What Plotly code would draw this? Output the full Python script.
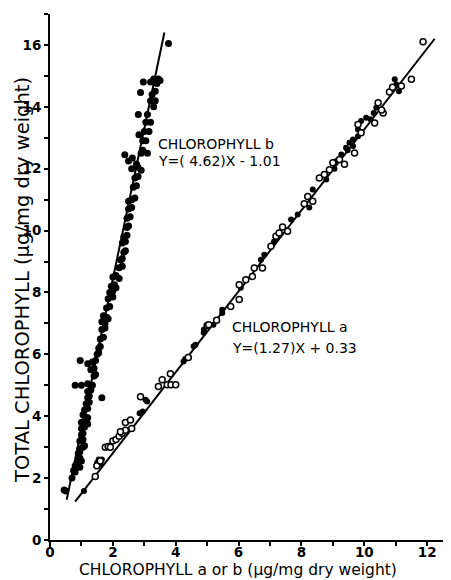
import plotly.graph_objects as go

# Chlorophyll b (filled circles)
b_x = [3.77, 3.30, 3.45, 3.50, 2.97, 3.20, 3.40, 2.88, 3.35, 3.25, 3.20, 3.35, 3.30, 2.81, 3.10,
       3.05, 3.20, 2.83, 3.00, 3.15, 3.05, 2.95, 2.90, 3.10, 2.95, 2.38, 2.50, 2.62, 2.75, 2.60,
       2.80, 2.90, 2.70, 2.80, 2.65, 2.75, 2.60, 2.70, 2.50, 2.50, 2.60, 2.45, 2.55, 2.45, 2.50,
       2.35, 2.45, 2.30, 2.40, 2.35, 2.40, 2.30, 2.25, 2.20, 2.30, 2.00, 2.10, 2.20, 1.95, 2.05,
       2.10, 1.90, 2.00, 1.85, 2.00, 1.80, 1.90, 1.80, 1.70, 1.85, 1.75, 1.65, 1.65, 1.75, 1.60,
       1.70, 1.55, 1.60, 1.50, 1.55, 0.96, 1.45, 1.20, 1.35, 1.30, 1.40, 1.40, 1.45, 0.80, 1.00,
       1.20, 1.30, 1.35, 1.20, 1.30, 1.65, 1.20, 1.25, 1.15, 1.25, 1.10, 1.20, 1.10, 1.05, 1.20,
       1.00, 1.10, 1.20, 1.00, 1.10, 1.00, 1.05, 0.95, 1.05, 1.05, 1.10, 0.95, 0.90, 0.95, 0.90,
       0.95, 1.00, 0.80, 0.85, 0.95, 0.80, 0.75, 0.70, 0.45, 0.50]
b_y = [16.05, 14.90, 14.90, 14.85, 14.80, 14.80, 14.75, 14.46, 14.50, 14.40, 14.20, 14.20, 14.00, 13.75, 13.75,
       13.50, 13.50, 13.10, 13.20, 13.20, 12.90, 12.90, 12.50, 12.50, 12.60, 12.45, 12.25, 12.35, 12.15, 12.00,
       12.05, 11.95, 11.70, 11.75, 11.40, 11.45, 11.00, 11.05, 10.95, 10.70, 10.75, 10.40, 10.45, 10.10, 10.15,
       9.80, 9.85, 9.60, 9.65, 9.30, 9.35, 9.10, 9.05, 8.80, 8.85, 8.50, 8.55, 8.45, 8.20, 8.25,
       8.15, 8.00, 8.05, 7.80, 7.85, 7.50, 7.55, 7.20, 7.25, 7.15, 7.00, 7.05, 6.80, 6.85, 6.50,
       6.55, 6.20, 6.25, 6.00, 6.05, 5.80, 5.80, 5.70, 5.75, 5.50, 5.55, 5.30, 5.35, 5.00, 5.00,
       5.05, 4.95, 5.00, 4.80, 4.85, 4.60, 4.60, 4.65, 4.40, 4.45, 4.20, 4.25, 4.00, 4.05, 3.95,
       3.80, 3.85, 3.75, 3.60, 3.65, 3.40, 3.45, 3.20, 3.25, 3.00, 3.05, 2.95, 2.80, 2.85, 2.60,
       2.65, 2.55, 2.40, 2.45, 2.35, 2.20, 2.25, 2.00, 1.62, 1.58]

# Chlorophyll a (open circles)
a_open_x = [1.44, 1.49, 1.60, 1.76, 1.85, 1.92, 2.00, 2.10, 2.20, 2.30, 2.40, 2.24, 2.40, 2.56, 2.60,
            2.88, 3.45, 3.57, 3.73, 3.85, 4.00, 3.83, 4.40, 5.00, 5.05, 5.30, 5.75, 6.02, 6.02, 6.23,
            6.44, 6.50, 6.76, 7.03, 7.19, 7.29, 7.56, 7.40, 8.09, 8.20, 8.36, 8.57, 8.73, 8.89, 9.00,
            9.21, 9.37, 9.69, 9.90, 9.80, 10.33, 10.60, 10.55, 10.44, 10.80, 10.90, 11.18, 11.50, 11.87]
a_open_y = [2.05, 2.40, 2.55, 3.00, 3.02, 3.00, 3.20, 3.25, 3.35, 3.45, 3.55, 3.50, 3.80, 3.88, 3.60,
            4.63, 4.96, 5.18, 5.02, 5.02, 5.02, 5.37, 5.90, 6.93, 6.96, 7.10, 7.55, 7.77, 8.25, 8.41,
            8.52, 8.79, 8.79, 9.49, 9.82, 9.92, 9.98, 10.12, 10.87, 11.10, 10.95, 11.70, 11.81, 11.97, 12.19,
            12.30, 12.14, 12.51, 13.16, 13.43, 13.48, 13.80, 13.90, 14.13, 14.48, 14.63, 14.67, 14.89, 16.10]
a_fill_x = [1.08, 1.50, 1.55, 1.60, 1.65, 2.85, 2.95, 3.09, 3.04, 4.25, 4.30, 4.57, 4.63, 4.89, 4.90,
            5.20, 5.48, 5.48, 6.07, 6.71, 6.82, 7.13, 7.67, 7.88, 8.25, 8.36, 8.79, 9.05, 9.10, 9.27,
            9.42, 9.47, 9.53, 9.64, 9.64, 9.80, 9.80, 9.90, 10.06, 10.20, 10.38, 10.30, 10.97, 11.02, 11.10]
a_fill_y = [1.58, 2.50, 2.60, 2.45, 2.60, 4.10, 4.15, 4.48, 4.53, 5.77, 5.85, 6.26, 6.31, 6.70, 6.80,
            6.96, 7.34, 7.44, 8.15, 9.06, 9.22, 9.65, 10.36, 10.52, 10.75, 11.33, 11.65, 12.00, 12.24, 12.46,
            12.68, 12.60, 12.84, 12.94, 12.73, 13.27, 13.05, 13.54, 13.65, 13.60, 13.97, 13.80, 14.89, 14.72, 14.50]

# regression lines (end points as drawn)
line_b_x = [0.53, 3.64]
line_b_y = [1.30, 16.40]
line_a_x = [0.80, 12.24]
line_a_y = [1.24, 16.20]

x_ticks = [0, 2, 4, 6, 8, 10, 12]
y_ticks = [0, 2, 4, 6, 8, 10, 12, 14, 16]

X_RANGE = [0, 12.6]
Y_RANGE = [0, 17.0]

# page has an 8px body margin: figure is drawn from (8, 8)
OFF = 8
W, H = 451 - OFF, 580 - OFF
ML, MT = 50 - OFF, 14 - OFF
MR = W - (446 - OFF)
MB = H - (540 - OFF)
PW, PH = W - ML - MR, H - MT - MB

FONT = "DejaVu Sans"

fig = go.Figure()
fig.add_trace(go.Scatter(x=line_b_x, y=line_b_y, mode="lines",
                         line=dict(color="black", width=2), showlegend=False))
fig.add_trace(go.Scatter(x=line_a_x, y=line_a_y, mode="lines",
                         line=dict(color="black", width=2), showlegend=False))
fig.add_trace(go.Scatter(x=b_x, y=b_y, mode="markers",
                         marker=dict(color="black", size=7, symbol="circle"), showlegend=False))
fig.add_trace(go.Scatter(x=a_fill_x, y=a_fill_y, mode="markers",
                         marker=dict(color="black", size=6, symbol="circle"), showlegend=False))
fig.add_trace(go.Scatter(x=a_open_x, y=a_open_y, mode="markers",
                         marker=dict(color="white", size=6, symbol="circle",
                                     line=dict(color="black", width=1.5)), showlegend=False))

common = dict(showline=True, linecolor="black", linewidth=2, showgrid=False, zeroline=False,
              ticks="outside", ticklen=4, tickwidth=2, tickcolor="black", automargin=False,
              minor=dict(dtick=1, tick0=0, ticks="outside", ticklen=4, tickwidth=2, tickcolor="black"),
              tickfont=dict(family=FONT, size=13.5, color="black"))
fig.update_xaxes(range=X_RANGE, tickvals=x_ticks, ticktext=["<b>%d</b>" % v for v in x_ticks],
                 ticklabelstandoff=-5, **common)
fig.update_yaxes(range=Y_RANGE, tickvals=y_ticks, ticktext=["<b>%d</b>" % v for v in y_ticks], **common)

# small extensions of the axes beyond the origin
fig.add_shape(type="line", xref="paper", yref="paper", x0=-6 / PW, x1=0, y0=0, y1=0,
              line=dict(color="black", width=2))
fig.add_shape(type="line", xref="paper", yref="paper", x0=0, x1=0, y0=-7 / PH, y1=0,
              line=dict(color="black", width=2))

ann_font = dict(family=FONT, size=14, color="black")
annotations = [
    dict(x=3.38, y=12.8, text="CHLOROPHYLL b", xanchor="left", yanchor="middle"),
    dict(x=3.38, y=12.25, text="Y=( 4.62)X - 1.01", xanchor="left", yanchor="middle"),
    dict(x=5.73, y=6.88, text="CHLOROPHYLL a", xanchor="left", yanchor="middle"),
    dict(x=5.73, y=6.2, text="Y=(1.27)X + 0.33", xanchor="left", yanchor="middle"),
]
for a in annotations:
    fig.add_annotation(**a, showarrow=False, font=ann_font)


def px_x(p):
    return (p - OFF - ML) / PW


def px_y(p):
    return ((H - MB) - (p - OFF)) / PH


fig.add_annotation(xref="paper", yref="paper", x=px_x(238), y=px_y(570),
                   text="CHLOROPHYLL a or b (μg/mg dry weight)", showarrow=False,
                   xanchor="center", yanchor="middle", font=dict(family=FONT, size=15.5, color="black"))
fig.add_annotation(xref="paper", yref="paper", x=px_x(22), y=px_y(280),
                   text="TOTAL CHLOROPHYLL (μg/mg dry weight)", showarrow=False, textangle=-90,
                   xanchor="center", yanchor="middle", font=dict(family=FONT, size=19.5, color="black"))

fig.update_layout(width=W, height=H, margin=dict(l=ML, r=MR, t=MT, b=MB),
                  plot_bgcolor="white", paper_bgcolor="white")

fig.write_html("out.html")
